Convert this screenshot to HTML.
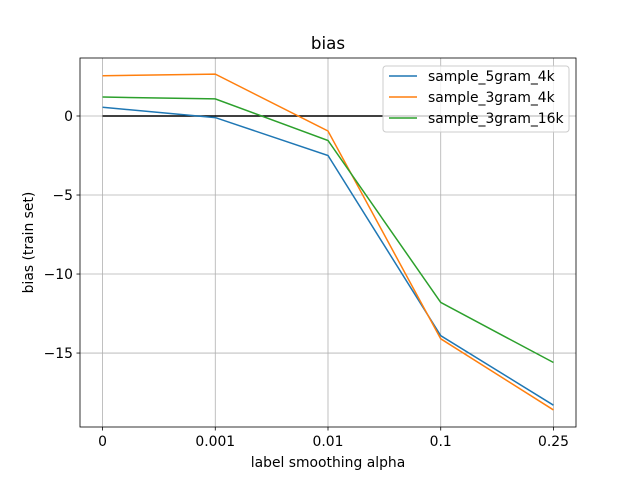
<!DOCTYPE html>
<html><head><meta charset="utf-8"><style>body{margin:0;background:#fff}svg{display:block;font-family:"DejaVu Sans","Liberation Sans",sans-serif}</style></head>
<body>
<svg id="c" width="640" height="480"></svg>
<script>
const categories=["0","0.001","0.01","0.1","0.25"];
const yTicks=[0,-5,-10,-15];
const seriesNames=["sample_5gram_4k","sample_3gram_4k","sample_3gram_16k"];
const seriesColors=["#1f77b4","#ff7f0e","#2ca02c"];
const s5gram4k=[0.55,-0.1,-2.5,-13.9,-18.3];
const s3gram4k=[2.55,2.65,-0.95,-14.1,-18.6];
const s3gram16k=[1.2,1.08,-1.55,-11.8,-15.6];
const refLine=[0,0,0,0,0];
const series=[s5gram4k,s3gram4k,s3gram16k];
const L=80,R=576,T=58,B=427;
const xmin=-0.2,xmax=4.2,ymin=-19.68,ymax=3.67;
const X=i=>L+(i-xmin)/(xmax-xmin)*(R-L);
const Y=v=>B-(v-ymin)/(ymax-ymin)*(B-T);
const svg=document.getElementById('c');const NS='http://www.w3.org/2000/svg';
function el(t,a,p){const e=document.createElementNS(NS,t);for(const k in a)e.setAttribute(k,a[k]);(p||svg).appendChild(e);return e;}
categories.forEach((c,i)=>{
const g=el('line',{x1:X(i),x2:X(i),y1:T,y2:B,stroke:'#b0b0b0','stroke-width':0.8});


el('line',{x1:X(i),x2:X(i),y1:B,y2:B+3.5,stroke:'#000','stroke-width':0.8});
const t=el('text',{x:X(i),y:B+19,'text-anchor':'middle','font-size':13.9});t.textContent=c;


});
yTicks.forEach(v=>{
const g=el('line',{x1:L,x2:R,y1:Y(v),y2:Y(v),stroke:'#b0b0b0','stroke-width':0.8});


el('line',{x1:L-3.5,x2:L,y1:Y(v),y2:Y(v),stroke:'#000','stroke-width':0.8});
const t=el('text',{x:L-7,y:Y(v)+5,'text-anchor':'end','font-size':13.9});t.textContent=v<0?'\u2212'+(-v):String(v);


});
const pts=a=>a.map((v,i)=>X(i)+','+Y(v)).join(' ');
const rl=el('polyline',{points:pts(refLine),fill:'none',stroke:'#000','stroke-width':1.5});


series.forEach((s,k)=>{
const p=el('polyline',{points:pts(s),fill:'none',stroke:seriesColors[k],'stroke-width':1.5});


});
const fr=el('rect',{x:L,y:T,width:R-L,height:B-T,fill:'none',stroke:'#000','stroke-width':0.8});


const lg=el('g',{});


el('rect',{x:383,y:66,width:186,height:66,rx:3,fill:'#fff','fill-opacity':0.8,stroke:'#ccc','stroke-width':1},lg);
seriesNames.forEach((n,k)=>{
const y=76+k*21;
el('line',{x1:389,x2:417,y1:y,y2:y,stroke:seriesColors[k],'stroke-width':1.5},lg);
const t=el('text',{x:428,y:y+5,'font-size':13.9},lg);t.textContent=n;


});
const ti=el('text',{x:(L+R)/2,y:49,'text-anchor':'middle','font-size':16.7});ti.textContent='bias';


const xl=el('text',{x:(L+R)/2,y:467,'text-anchor':'middle','font-size':13.9});xl.textContent='label smoothing alpha';


const yl=el('text',{x:33,y:(T+B)/2,'text-anchor':'middle','font-size':13.9,transform:'rotate(-90 33 '+(T+B)/2+')'});yl.textContent='bias (train set)';


</script>
</body></html>
